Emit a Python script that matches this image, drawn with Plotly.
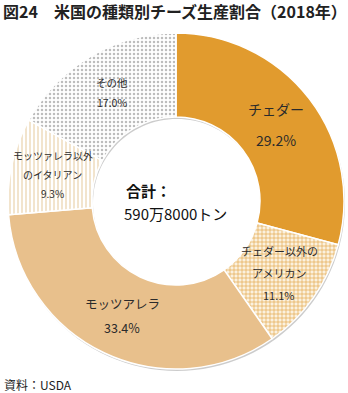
import math
import plotly.graph_objects as go

# --- data -----------------------------------------------------------------
categories = ["チェダー", "チェダー以外のアメリカン", "モッツアレラ",
              "モッツァレラ以外のイタリアン", "その他"]
shares = [29.2, 11.1, 33.4, 9.3, 17.0]
label_lines = [
    ["チェダー"],
    ["チェダー以外の", "アメリカン"],
    ["モッツアレラ"],
    ["モッツァレラ以外", "のイタリアン"],
    ["その他"],
]
title_text = "図24　米国の種類別チーズ生産割合（2018年）"
center_lines = ["合計：", "590万8000トン"]
source_text = "資料：USDA"

# --- styles ---------------------------------------------------------------
W, H = 348, 393
CX, CY, R = 176, 201, 168          # donut centre / outer radius (px)
HOLE = 0.5
LABEL_R = 126                      # radius at which slice labels sit (px)
FONT = "Noto Sans CJK JP"
TXT = "#2b2b2b"

base_colors = ["#E19B2E", "#FBF1DF", "#E8C08C", "#FFFFFF", "#FFFFFF"]
pattern_shape = ["", "+", "", "|", "."]
pattern_fg = ["#E19B2E", "#E3A54A", "#E8C08C", "#EAD2AC", "#BDBDBD"]
label_size = [14, 11, 12.5, 10, 10.5]
line_gap = [31, 22, 24, 19, 20]

fig = go.Figure()


def ring_path(cx, cy, r_out, r_in, n=120):
    """Annulus outline in paper coords (outer ring one way, inner the other)."""
    def pt(r, a):
        return ((cx + r * math.cos(a)) / W, 1 - (cy + r * math.sin(a)) / H)
    outer = [pt(r_out, 2 * math.pi * k / n) for k in range(n)]
    inner = [pt(r_in, -2 * math.pi * k / n) for k in range(n)]
    d = "M " + " L ".join(f"{x:.5f},{y:.5f}" for x, y in outer) + " Z "
    d += "M " + " L ".join(f"{x:.5f},{y:.5f}" for x, y in inner) + " Z"
    return d


# soft drop shadow under the ring
fig.add_shape(type="path", xref="paper", yref="paper", layer="below",
              path=ring_path(CX + 1, CY + 2, R, R * HOLE),
              line=dict(width=0), fillcolor="rgba(0,0,0,0.20)")

fig.add_trace(go.Pie(
    labels=categories,
    values=shares,
    sort=False,
    direction="clockwise",
    rotation=0,
    hole=HOLE,
    textinfo="none",
    hoverinfo="label+percent",
    showlegend=False,
    domain=dict(x=[(CX - R) / W, (CX + R) / W],
                y=[1 - (CY + R) / H, 1 - (CY - R) / H]),
    marker=dict(
        colors=base_colors,
        line=dict(color="#FFFFFF", width=1.5),
        pattern=dict(shape=pattern_shape, fgcolor=pattern_fg,
                     bgcolor=base_colors, size=4, solidity=0.3,
                     fillmode="replace"),
    ),
))

# slice labels placed at each slice's mid-angle
total = sum(shares)
cum = 0.0
for i, v in enumerate(shares):
    theta = math.radians((cum + v / 2) / total * 360)
    cum += v
    px = CX + LABEL_R * math.sin(theta)
    py = CY - LABEL_R * math.cos(theta)
    lines = label_lines[i] + [f"{v:.1f}%"]
    n = len(lines)
    for k, line in enumerate(lines):
        ly = py + (k - (n - 1) / 2) * line_gap[i]
        fig.add_annotation(x=px / W, y=1 - ly / H, xref="paper", yref="paper",
                           text=line, showarrow=False,
                           xanchor="center", yanchor="middle",
                           font=dict(family=FONT, size=label_size[i], color=TXT))

# total in the hole
fig.add_annotation(x=124 / W, y=1 - 190 / H, xref="paper", yref="paper",
                   text=f"<b>{center_lines[0]}</b>", showarrow=False,
                   xanchor="left", yanchor="middle",
                   font=dict(family=FONT, size=15, color="#111"))
fig.add_annotation(x=122 / W, y=1 - 213 / H, xref="paper", yref="paper",
                   text=center_lines[1], showarrow=False,
                   xanchor="left", yanchor="middle",
                   font=dict(family=FONT, size=15, color="#111"))

# title and source
fig.add_annotation(x=1 / W, y=1 - 11 / H, xref="paper", yref="paper",
                   text=f"<b>{title_text}</b>", showarrow=False,
                   xanchor="left", yanchor="middle",
                   font=dict(family=FONT, size=16, color="#222"))
fig.add_annotation(x=2 / W, y=1 - 384 / H, xref="paper", yref="paper",
                   text=source_text, showarrow=False,
                   xanchor="left", yanchor="middle",
                   font=dict(family=FONT, size=12, color="#222"))

fig.update_layout(width=W, height=H, margin=dict(l=0, r=0, t=0, b=0),
                  paper_bgcolor="#FFFFFF", plot_bgcolor="#FFFFFF")

fig.write_html("out.html", config={"displayModeBar": False})
